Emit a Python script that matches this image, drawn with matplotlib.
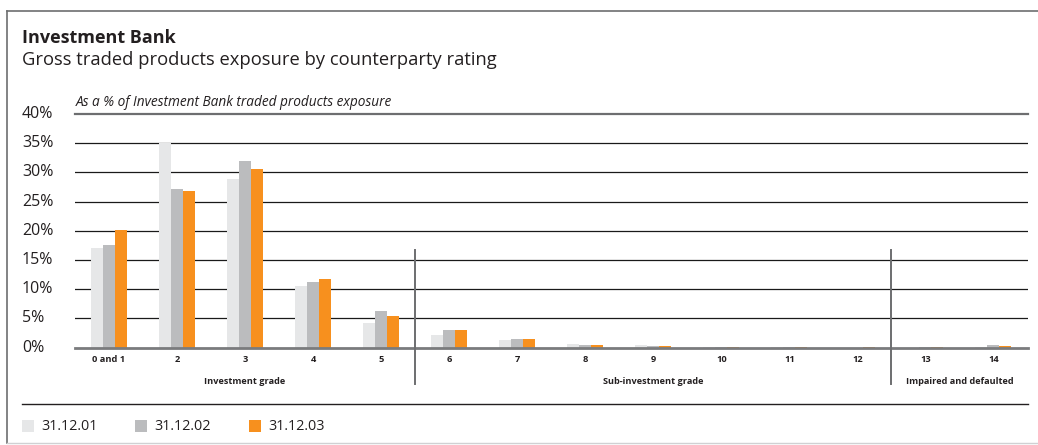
import matplotlib
matplotlib.use("Agg")
import matplotlib.pyplot as plt
from matplotlib.lines import Line2D
from matplotlib.patches import Rectangle
import numpy as np

plt.rcParams['font.family'] = ['Open Sans', 'DejaVu Sans']

categories = ["0 and 1", "2", "3", "4", "5", "6", "7", "8", "9", "10", "11", "12", "13", "14"]
series_names = ["31.12.01", "31.12.02", "31.12.03"]
values_2001 = [17.1, 35.0, 28.8, 10.6, 4.2, 2.1, 1.3, 0.7, 0.5, 0.05, 0.05, 0.02, 0.02, 0.05]
values_2002 = [17.6, 27.2, 32.0, 11.3, 6.3, 3.0, 1.5, 0.45, 0.3, 0.05, 0.05, 0.02, 0.05, 0.45]
values_2003 = [20.1, 26.9, 30.6, 11.8, 5.5, 3.0, 1.5, 0.5, 0.35, 0.12, 0.06, 0.06, 0.1, 0.3]
y_ticks = [0, 5, 10, 15, 20, 25, 30, 35, 40]
y_tick_labels = ["0%", "5%", "10%", "15%", "20%", "25%", "30%", "35%", "40%"]
groups = [("Investment grade", -0.5, 4.5),
          ("Sub-investment grade", 4.5, 11.5),
          ("Impaired and defaulted", 11.5, 13.5)]

colors = ["#e6e7e8", "#bbbcbe", "#f7901e"]

W, H = 1038, 445
fig = plt.figure(figsize=(W / 100, H / 100), dpi=100)


def fx(px):
    return px / W


def fy(py):
    return 1 - py / H


ax = fig.add_axes([fx(75), fy(347.7), fx(1027.5) - fx(75), fy(114) - fy(347.7)])
ax.set_xlim(-0.5, len(categories) - 0.5)
ax.set_ylim(0, 40)

# horizontal grid
for t in y_ticks[1:-1]:
    ax.axhline(t, color="#1a1a1a", lw=0.9, zorder=1)
ax.axhline(40, color="#6d6e70", lw=1.6, zorder=1, clip_on=False)

x = np.arange(len(categories))
bw = 0.1765
for i, (vals, c) in enumerate(zip([values_2001, values_2002, values_2003], colors)):
    ax.bar(x + (i - 1) * bw, vals, width=bw, color=c, zorder=2, linewidth=0)

ax.axhline(0, color="#7a7b7d", lw=2.0, zorder=3, clip_on=False)

for s in ax.spines.values():
    s.set_visible(False)
ax.set_xticks([])
ax.set_yticks([])

# y tick labels
for t, lab in zip(y_ticks, y_tick_labels):
    ax.text(-0.5 - 53 / 68, t, lab, ha="left", va="center", fontsize=11.5, color="#231f20")

# category labels
for xi, lab in zip(x, categories):
    ax.text(xi, -2.0, lab, ha="center", va="center", fontsize=6.7, fontweight="bold",
            color="#231f20", clip_on=False)

# group separators and labels
for name, a, b in groups:
    ax.text((a + b) / 2, -5.8, name, ha="center", va="center", fontsize=6.6,
            fontweight="bold", color="#231f20", clip_on=False)
for sep in [4.5, 11.5]:
    ax.plot([sep, sep], [16.8, -6.2], color="#6d6e70", lw=1.4, clip_on=False, zorder=4)

# titles
fig.text(fx(22), fy(38), "Investment Bank", fontsize=13, fontweight="bold",
         color="#231f20", va="center", ha="left")
fig.text(fx(22), fy(60), "Gross traded products exposure by counterparty rating",
         fontsize=13.2, color="#231f20", va="center", ha="left")
fig.text(fx(76), fy(103), "As a % of Investment Bank traded products exposure",
         fontsize=9.8, style="italic", color="#231f20", va="center", ha="left")

# frame
fig.add_artist(Line2D([fx(7), fx(7)], [fy(11), fy(443)], color="#6d6e70", lw=1.2))
fig.add_artist(Line2D([fx(7), 1], [fy(11), fy(11)], color="#6d6e70", lw=1.2))
fig.add_artist(Line2D([fx(7), 1], [fy(443), fy(443)], color="#d0d1d3", lw=1.0))

# legend
fig.add_artist(Line2D([fx(22), fx(1027.5)], [fy(404), fy(404)], color="#231f20", lw=1.0))
legend_x = [22, 135, 249]
for lx, name, c in zip(legend_x, series_names, colors):
    fig.add_artist(Rectangle((fx(lx), fy(432)), fx(12), fy(420) - fy(432),
                             transform=fig.transFigure, color=c, lw=0))
    fig.text(fx(lx + 19), fy(426), name, fontsize=10.4, color="#231f20",
             va="center", ha="left")

fig.savefig("out.png", dpi=100)
